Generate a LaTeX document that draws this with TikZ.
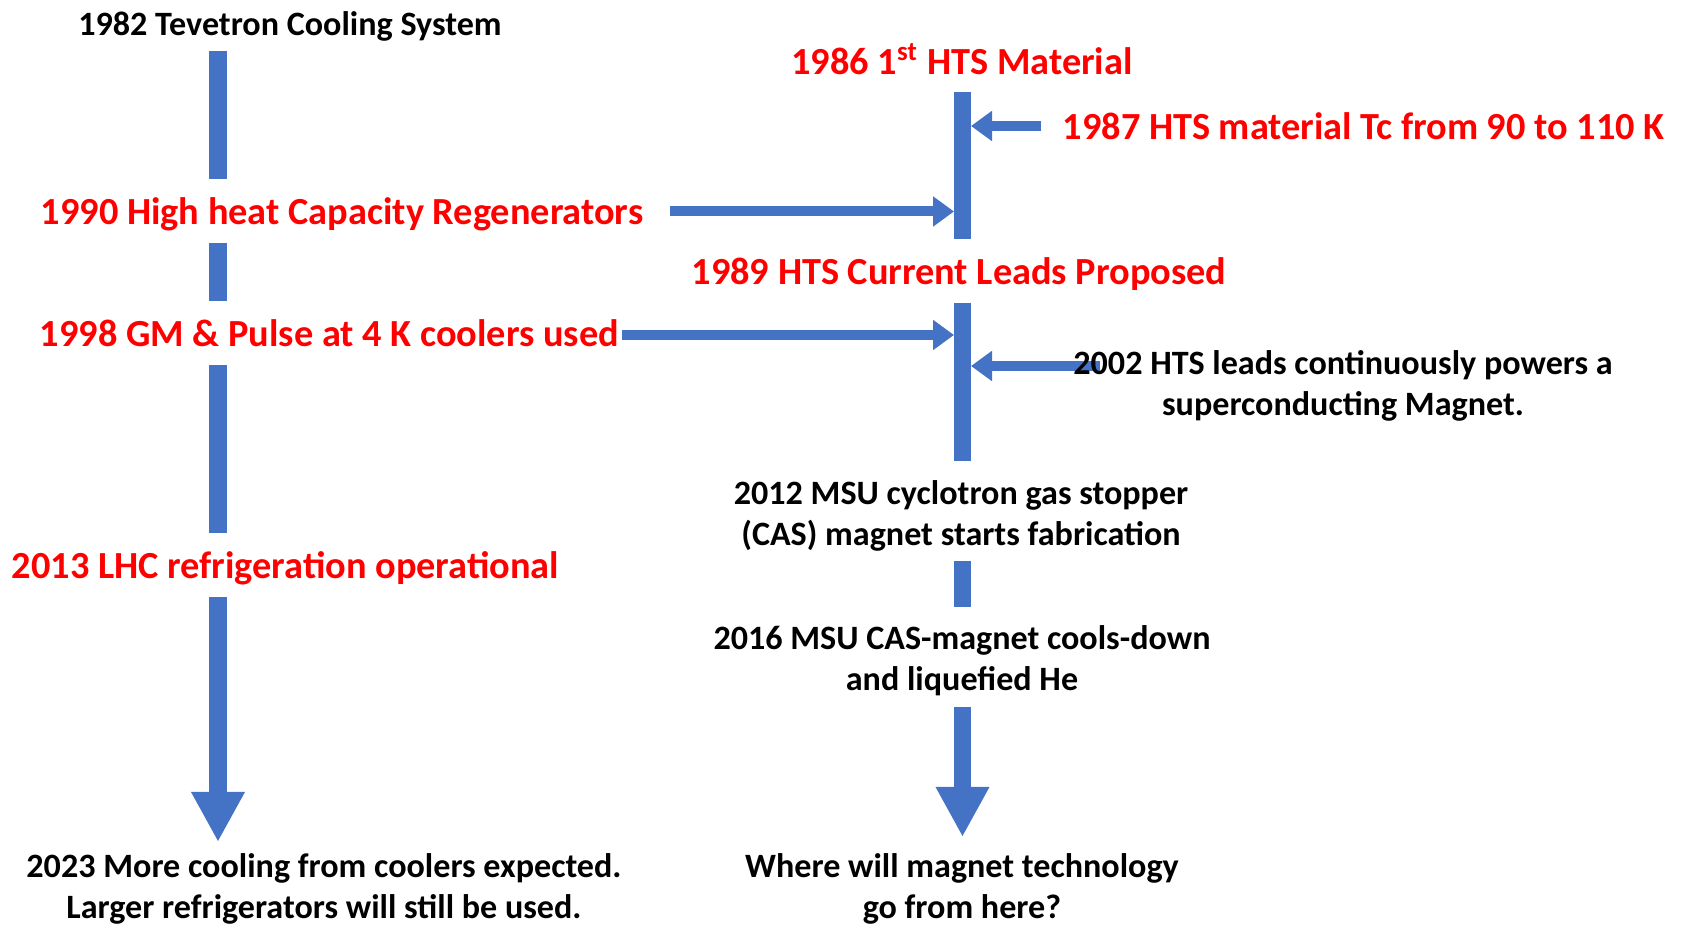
\documentclass[tikz,border=0pt]{standalone}
\usepackage{fontspec}
\setmainfont{Carlito}
\usepackage{xcolor}
\usetikzlibrary{arrows.meta}
\definecolor{barblue}{RGB}{68,114,196}
\definecolor{eventred}{RGB}{255,0,0}

\begin{document}
\begin{tikzpicture}[x=0.01cm, y=-0.01cm,
    blackevent/.style={font=\fontsize{9.7}{11.6}\selectfont\bfseries, text=black, inner sep=0pt, align=center},
    redevent/.style={font=\fontsize{10.9}{13}\selectfont\bfseries, text=eventred, inner sep=0pt},
    bar/.style={draw=barblue, line width=0.17cm},
    feed/.style={draw=barblue, line width=0.1cm, -{Triangle[length=0.21cm, width=0.29cm]}},
    future/.style={draw=barblue, line width=0.17cm, -{Triangle[length=0.5cm, width=0.5cm]}}]
    \useasboundingbox (0,0) rectangle (1682,925);

    % Coordinates
    \coordinate (C1) at (218,51.5);
    \coordinate (C2) at (218,179);
    \coordinate (C3) at (218,243.5);
    \coordinate (C4) at (218,301.5);
    \coordinate (C5) at (218,365);
    \coordinate (C6) at (218,533);
    \coordinate (C7) at (218,597.5);
    \coordinate (C8) at (218,842);
    \coordinate (M1) at (962.5,92);
    \coordinate (M2) at (962.5,239);
    \coordinate (M3) at (962.5,303);
    \coordinate (M4) at (962.5,461);
    \coordinate (M5) at (962.5,561);
    \coordinate (M6) at (962.5,607);
    \coordinate (M7) at (962.5,707);
    \coordinate (M8) at (962.5,837);

    % Cooling line
    \draw[bar] (C1) -- (C2);
    \draw[bar] (C3) -- (C4);
    \draw[bar] (C5) -- (C6);
    \draw[future] (C7) -- (C8);

    % Magnet line
    \draw[bar] (M1) -- (M2);
    \draw[bar] (M3) -- (M4);
    \draw[bar] (M5) -- (M6);
    \draw[future] (M7) -- (M8);

    % Feeding arrows
    \draw[feed] (1041,126) coordinate (F1) -- (971,126) coordinate (B1);
    \draw[feed] (670,211.5) coordinate (F2) -- (954,211.5) coordinate (B2);
    \draw[feed] (622,335) coordinate (F3) -- (954,335) coordinate (B3);
    \draw[feed] (1100,366) coordinate (F4) -- (971,366) coordinate (B4);

    % Text
    \node[blackevent] (t1982) at (290,26.5) {1982 Tevetron Cooling System};
    \node[redevent] (t1986) at (962,59) {1986 1\textsuperscript{st} HTS Material};
    \node[redevent, anchor=west] (t1987) at (1062,126) {1987 HTS material Tc from 90 to 110 K};
    \node[redevent, anchor=west] (t1990) at (40,214) {1990 High heat Capacity Regenerators};
    \node[redevent] (t1989) at (959,274) {1989 HTS Current Leads Proposed};
    \node[redevent, anchor=west] (t1998) at (39,333) {1998 GM \& Pulse at 4 K coolers used};
    \node[blackevent] (t2002) at (1343,386) {2002 HTS leads continuously powers a\\superconducting Magnet.};
    \node[redevent, anchor=west] (t2013) at (11,568) {2013 LHC refrigeration operational};
    \node[blackevent] (t2012) at (961,516) {2012 MSU cyclotron gas stopper\\(CAS) magnet starts fabrication};
    \node[blackevent] (t2016) at (962,661) {2016 MSU CAS-magnet cools-down\\and liquefied He};
    \node[blackevent] (t2023) at (324,889) {2023 More cooling from coolers expected.\\Larger refrigerators will still be used.};
    \node[blackevent] (tnext) at (962,889) {Where will magnet technology\\go from here?};
\end{tikzpicture}
\end{document}
